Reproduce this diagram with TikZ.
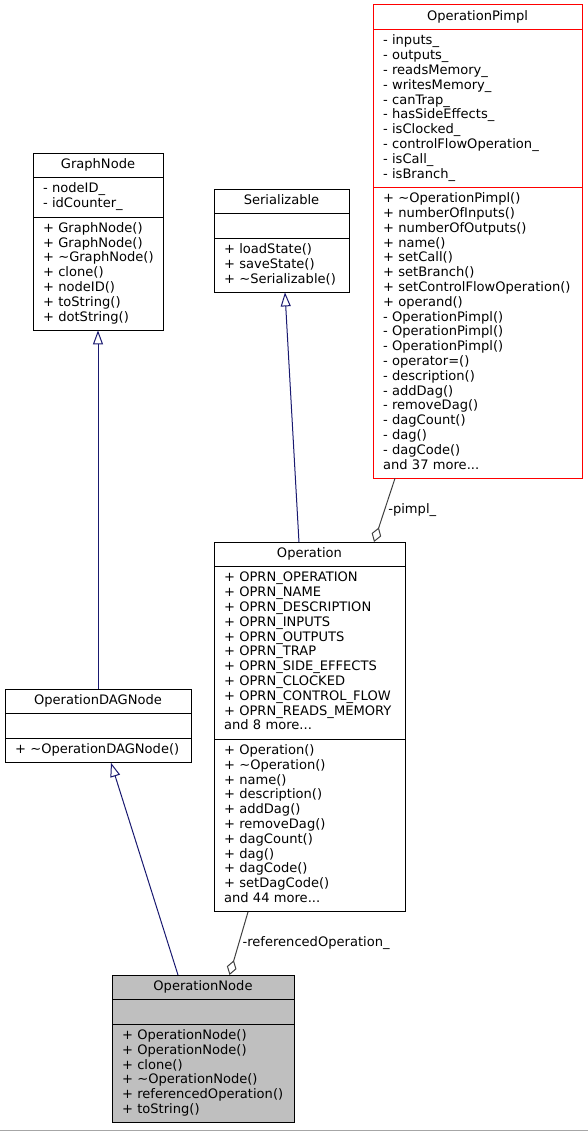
\documentclass[tikz,border=0pt]{standalone}
\usepackage{fontspec}
\setmainfont{DejaVu Sans}
\usepackage{tikz}
\usetikzlibrary{positioning, shapes.multipart, arrows.meta}
\definecolor{edgeblue}{HTML}{191970}
\definecolor{edgegray}{HTML}{404040}
\definecolor{nodegray}{HTML}{BFBFBF}
\definecolor{pimplred}{HTML}{FF0000}
\newcommand{\umlparts}[3]{\strut\hspace*{\fill}#1\hspace*{\fill}\strut\nodepart{two}\strut#2\strut\nodepart{three}\strut#3\strut}

\begin{document}
\begin{tikzpicture}[x=0.75pt, y=-0.75pt]
    % Define styles
    \tikzset{
        umlclass/.style={rectangle split, rectangle split parts=3, draw, fill=white, line width=0.75pt, anchor=north west, inner xsep=7.5pt, inner ysep=3.3pt, outer sep=0pt, align=left, text width=#1, font={\fontsize{9.8}{11.1}\selectfont\hyphenpenalty10000\exhyphenpenalty10000}},
        inherit/.style={-{Triangle[open, length=10.5pt, width=7.5pt]}, draw=edgeblue, line width=0.75pt},
        aggreg/.style={-{Diamond[open, length=11.5pt, width=7.5pt]}, draw=edgegray, line width=0.75pt},
        lbl/.style={font={\fontsize{9.8}{11.1}\selectfont}, inner sep=0pt}
    }
    \useasboundingbox (0,0) rectangle (588,1131);

    % Classes
    \node (pimpl) [umlclass=141.75pt, draw=pimplred] at (373,5) {\umlparts{OperationPimpl}
        {-~inputs\_\\-~outputs\_\\-~readsMemory\_\\-~writesMemory\_\\-~canTrap\_\\-~hasSideEffects\_\\-~isClocked\_\\-~controlFlowOperation\_\\-~isCall\_\\-~isBranch\_}
        {+~\textasciitilde OperationPimpl()\\+~numberOfInputs()\\+~numberOfOutputs()\\+~name()\\+~setCall()\\+~setBranch()\\+~setControlFlowOperation()\\+~operand()\\-~OperationPimpl()\\-~OperationPimpl()\\-~OperationPimpl()\\-~operator=()\\-~description()\\-~addDag()\\-~removeDag()\\-~dagCount()\\-~dag()\\-~dagCode()\\and~37~more...}};
    \node (graph) [umlclass=82.5pt] at (33,153) {\umlparts{GraphNode}
        {-~nodeID\_\\-~idCounter\_}
        {+~GraphNode()\\+~GraphNode()\\+~\textasciitilde GraphNode()\\+~clone()\\+~nodeID()\\+~toString()\\+~dotString()}};
    \node (ser) [umlclass=86.25pt] at (214,189) {\umlparts{Serializable}
        {}
        {+~loadState()\\+~saveState()\\+~\textasciitilde Serializable()}};
    \node (op) [umlclass=128.25pt] at (214,542) {\umlparts{Operation}
        {+~OPRN\_OPERATION\\+~OPRN\_NAME\\+~OPRN\_DESCRIPTION\\+~OPRN\_INPUTS\\+~OPRN\_OUTPUTS\\+~OPRN\_TRAP\\+~OPRN\_SIDE\_EFFECTS\\+~OPRN\_CLOCKED\\+~OPRN\_CONTROL\_FLOW\\+~OPRN\_READS\_MEMORY\\and~8~more...}
        {+~Operation()\\+~\textasciitilde Operation()\\+~name()\\+~description()\\+~addDag()\\+~removeDag()\\+~dagCount()\\+~dag()\\+~dagCode()\\+~setDagCode()\\and~44~more...}};
    \node (dag) [umlclass=124.5pt] at (5,689) {\umlparts{OperationDAGNode}
        {}
        {+~\textasciitilde OperationDAGNode()}};
    \node (opnode) [umlclass=121.5pt, fill=nodegray] at (112,975) {\umlparts{OperationNode}
        {}
        {+~OperationNode()\\+~OperationNode()\\+~clone()\\+~\textasciitilde OperationNode()\\+~referencedOperation()\\+~toString()}};

    % Inheritance
    \draw [inherit] (dag.north) -- (graph.south);
    \draw [inherit] ([xshift=-7.9pt]op.north) -- ([xshift=2.6pt]ser.south);
    \draw [inherit] ([xshift=-18.75pt]opnode.north) -- ([xshift=9.75pt]dag.south);

    % Aggregation
    \draw [aggreg] ([xshift=-61.9pt]pimpl.south) -- ([xshift=48.4pt]op.north) node[lbl, midway, right=2.5pt] {-pimpl\_};
    \draw [aggreg] ([xshift=-46.1pt]op.south) -- ([xshift=19.9pt]opnode.north) node[lbl, midway, right=2.5pt] {-referencedOperation\_};

    \draw [black!35, line width=0.75pt] (0,1130) -- (588,1130);
\end{tikzpicture}
\end{document}
